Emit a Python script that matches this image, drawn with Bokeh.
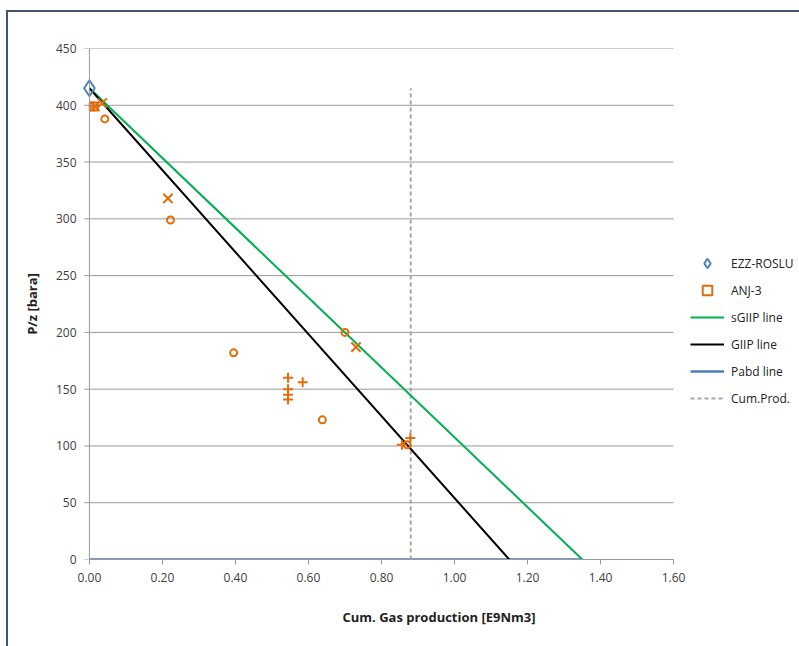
from bokeh.plotting import figure
from bokeh.models import Legend, LegendItem, Range1d, FixedTicker, NumeralTickFormatter, Span
from bokeh.embed import file_html
from bokeh.resources import INLINE

# ---- data ----
ezz_x = [0.0]
ezz_y = [415]

anj_square_x = [0.012]
anj_square_y = [399]

anj_cross_x = [0.015, 0.035, 0.215, 0.73]
anj_cross_y = [399, 402, 318, 187]

anj_circle_x = [0.042, 0.222, 0.395, 0.70, 0.638, 0.87]
anj_circle_y = [388, 299, 182, 200, 123, 101]

anj_plus_x = [0.012, 0.544, 0.544, 0.544, 0.544, 0.584, 0.856, 0.879]
anj_plus_y = [399, 160, 150, 145, 141, 156, 101, 107]

sgiip_x = [0.0, 1.35]
sgiip_y = [415, 0]
giip_x = [0.0, 1.15]
giip_y = [415, 0]
pabd_x = [0.0, 1.35]
pabd_y = [0, 0]
cum_x = [0.88, 0.88]
cum_y = [0, 415]

x_ticks = [0.0, 0.2, 0.4, 0.6, 0.8, 1.0, 1.2, 1.4, 1.6]
y_ticks = [0, 50, 100, 150, 200, 250, 300, 350, 400, 450]

FONT = "Open Sans"
ORANGE = "#E46C0A"
GRID = "#9A9A9A"
FRAME = "#44546A"

p = figure(width=799, height=646, output_backend="svg", toolbar_location=None,
           x_range=Range1d(-0.03, 1.945), y_range=Range1d(0, 450),
           min_border_left=78, min_border_right=0, min_border_top=48, min_border_bottom=87)
p.outline_line_color = None
p.border_fill_color = None
p.background_fill_color = None
p.xgrid.grid_line_color = None
p.ygrid.grid_line_color = None
p.styles = {
    "background": (f"linear-gradient({FRAME}, {FRAME}) 6px 10px / 2px 100% no-repeat, "
                   f"linear-gradient({FRAME}, {FRAME}) 6px 10px / 100% 2px no-repeat, white"),
}

# horizontal gridlines (with small outer tick) spanning the axis range only
p.segment(x0=[-0.014] * len(y_ticks), y0=y_ticks,
          x1=[x_ticks[-1]] * len(y_ticks), y1=y_ticks,
          line_color=GRID, line_width=1)
p.add_layout(Span(location=0, dimension="height", line_color=GRID, line_width=1))

p.xaxis.ticker = FixedTicker(ticks=x_ticks)
p.yaxis.ticker = FixedTicker(ticks=y_ticks)
p.xaxis.formatter = NumeralTickFormatter(format="0.00")
p.xaxis.bounds = (0, 1.6)
for ax in (p.xaxis, p.yaxis):
    ax.axis_line_color = GRID
    ax.major_tick_line_color = GRID
    ax.minor_tick_line_color = None
    ax.major_tick_in = 0
    ax.major_tick_out = 5
    ax.major_label_text_font = FONT
    ax.major_label_text_font_size = "12px"
    ax.major_label_text_color = "#404040"
    ax.axis_label_text_font = FONT
    ax.axis_label_text_font_style = "bold"
    ax.axis_label_text_font_size = "13px"
    ax.axis_label_text_color = "#222222"
p.yaxis.axis_line_color = None
p.yaxis.major_tick_line_color = None
p.yaxis.major_tick_out = 0
p.xaxis.axis_label = "Cum. Gas production [E9Nm3]"
p.yaxis.axis_label = "P/z [bara]"
p.xaxis.major_label_standoff = 8
p.xaxis.axis_label_standoff = 23
p.yaxis.major_label_standoff = 2
p.yaxis.axis_label_standoff = 12

r_pabd = p.line(pabd_x, pabd_y, line_color="#4A7EBB", line_width=2.5)
r_cum = p.line(cum_x, cum_y, line_color="#A6A6A6", line_width=2, line_dash="4 3")
r_sg = p.line(sgiip_x, sgiip_y, line_color="#00B050", line_width=2)
r_g = p.line(giip_x, giip_y, line_color="#000000", line_width=2)

r_anj = p.scatter(anj_square_x, anj_square_y, marker="square", size=8, fill_color=None,
                  line_color=ORANGE, line_width=2)
p.scatter(anj_circle_x, anj_circle_y, marker="circle", size=7, fill_color=None,
          line_color=ORANGE, line_width=2)
p.scatter(anj_plus_x, anj_plus_y, marker="cross", size=10, line_color=ORANGE, line_width=2)
p.scatter(anj_cross_x, anj_cross_y, marker="x", size=13, line_color=ORANGE, line_width=2)
r_ezz = p.scatter(ezz_x, ezz_y, marker="diamond", size=16, fill_color=None,
                  line_color="#4F81BD", line_width=2)

legend = Legend(items=[
    LegendItem(label="EZZ-ROSLU", renderers=[r_ezz]),
    LegendItem(label="ANJ-3", renderers=[r_anj]),
    LegendItem(label="sGIIP line", renderers=[r_sg]),
    LegendItem(label="GIIP line", renderers=[r_g]),
    LegendItem(label="Pabd line", renderers=[r_pabd]),
    LegendItem(label="Cum.Prod.", renderers=[r_cum]),
], location=(612, 149))
legend.border_line_color = None
legend.background_fill_alpha = 0
legend.label_text_font = FONT
legend.label_text_font_size = "12px"
legend.label_text_color = "#222222"
legend.glyph_width = 34
legend.glyph_height = 24
legend.spacing = 3
legend.label_standoff = 7
legend.padding = 0
legend.margin = 0
p.add_layout(legend, "center")

open("out.html", "w").write(file_html(p, INLINE))
